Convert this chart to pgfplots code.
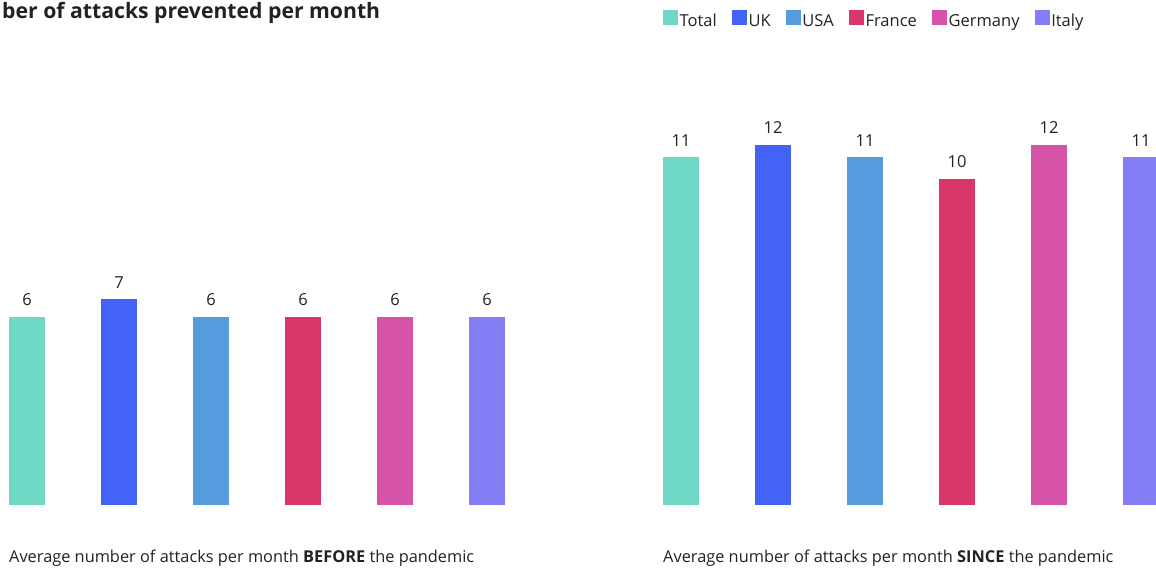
\documentclass[border=0pt]{standalone}
\usepackage{pgfplots}
\pgfplotsset{compat=1.18}
\usepackage{fontspec}
\setmainfont{Open Sans}
\definecolor{cTotal}{HTML}{6FD9C5}
\definecolor{cUK}{HTML}{4263F5}
\definecolor{cUSA}{HTML}{569BDB}
\definecolor{cFrance}{HTML}{D9376A}
\definecolor{cGermany}{HTML}{D653A8}
\definecolor{cItaly}{HTML}{837EF5}
\definecolor{txt}{HTML}{222222}
\pgfplotsset{
  barstyle/.style={
    scale only axis, x=92pt, y=31.2pt,
    ymin=0, ymax=12.5,
    enlargelimits=false, clip=false,
    hide axis,
    ybar, bar width=36pt, bar shift=0pt,
    /pgf/number format/assume math mode=true,
    nodes near coords={\pgfmathprintnumber[fixed,precision=0]{\pgfplotspointmeta}},
    every node near coord/.append style={anchor=base, inner sep=0pt, yshift=11pt,
      font=\fontsize{16.5}{19}\selectfont, text=txt},
  }
}
\begin{document}
\begin{tikzpicture}[x=1pt,y=1pt]
\useasboundingbox (0,0) rectangle (1156,569);
\clip (0,0) rectangle (1156,569);
\node[anchor=base west, inner sep=0pt, text=txt, font=\fontsize{21.2}{25}\selectfont\bfseries] at (2,550) {ber of attacks prevented per month};
\node[anchor=base west, inner sep=0pt, text=txt, font=\fontsize{16.35}{19}\selectfont] at (9,6) {Average number of attacks per month \textbf{BEFORE} the pandemic};
\node[anchor=base west, inner sep=0pt, text=txt, font=\fontsize{16.35}{19}\selectfont] at (663,6) {Average number of attacks per month \textbf{SINCE} the pandemic};
\begin{axis}[barstyle, at={(0pt,64pt)}, anchor=south west, xmin=-0.2935, xmax=5.5]
\addplot[fill=cTotal, draw=none] coordinates {(0,6.03)};
\addplot[fill=cUK, draw=none] coordinates {(1,6.60)};
\addplot[fill=cUSA, draw=none] coordinates {(2,6.03)};
\addplot[fill=cFrance, draw=none] coordinates {(3,6.03)};
\addplot[fill=cGermany, draw=none] coordinates {(4,6.03)};
\addplot[fill=cItaly, draw=none] coordinates {(5,6.03)};
\end{axis}
\begin{axis}[barstyle, at={(635pt,64pt)}, anchor=south west, xmin=-0.5, xmax=5.5,
  legend columns=-1,
  legend image code/.code={\fill[#1] (0pt,-4pt) rectangle (15pt,11pt);},
  legend style={draw=none, fill=none, inner sep=0pt, at={(axis description cs:0.0507,1.2697)}, anchor=north west,
    font=\fontsize{16.5}{19}\selectfont, text=txt,
    nodes={inner sep=1.5pt},
    /tikz/every even column/.append style={column sep=13.7pt}},
]
\addplot[fill=cTotal, draw=none] coordinates {(0,11.15)};
\addplot[fill=cUK, draw=none] coordinates {(1,11.54)};
\addplot[fill=cUSA, draw=none] coordinates {(2,11.15)};
\addplot[fill=cFrance, draw=none] coordinates {(3,10.45)};
\addplot[fill=cGermany, draw=none] coordinates {(4,11.54)};
\addplot[fill=cItaly, draw=none] coordinates {(5,11.15)};
\legend{Total,UK,USA,France,Germany,Italy}
\end{axis}
\end{tikzpicture}
\end{document}
